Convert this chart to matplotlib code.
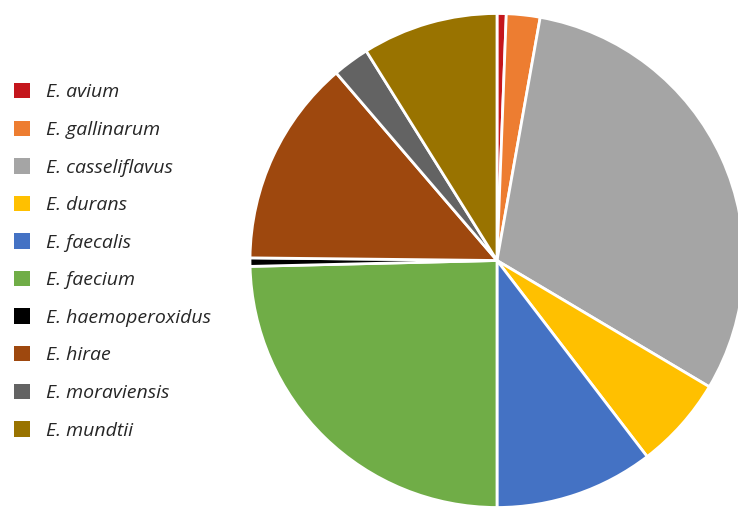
import matplotlib
matplotlib.use("Agg")
import matplotlib.pyplot as plt

species = ["E. avium", "E. gallinarum", "E. casseliflavus", "E. durans", "E. faecalis",
           "E. faecium", "E. haemoperoxidus", "E. hirae", "E. moraviensis", "E. mundtii"]
shares = [0.6, 2.2, 30.74, 6.06, 10.4, 24.62, 0.55, 13.55, 2.4, 8.88]
colors = ["#C4161C", "#ED7D31", "#A5A5A5", "#FFC000", "#4472C4",
          "#70AD47", "#000000", "#9E480E", "#636363", "#997300"]

W, H = 738, 507
fig = plt.figure(figsize=(W / 100, H / 100), dpi=100)
ax = fig.add_axes([0, 0, 1, 1])
wedges, _ = ax.pie(shares, colors=colors, startangle=90, counterclock=False,
                   center=(497, H - 260.5), radius=247,
                   wedgeprops=dict(edgecolor="white", linewidth=2.0))
ax.set_xlim(0, W)
ax.set_ylim(0, H)
ax.set_aspect("auto")
ax.axis("off")

leg = ax.legend(wedges, species, loc="upper left",
                bbox_to_anchor=(14 / W, 1 - 83 / H), frameon=False,
                prop=dict(family="Open Sans", style="italic", size=14),
                handlelength=0.84, handleheight=0.84, handletextpad=0.8,
                labelspacing=0.985, borderpad=0, borderaxespad=0)
for t in leg.get_texts():
    t.set_color("#262626")
for h in leg.legend_handles:
    h.set_edgecolor("none")

fig.savefig("out.png", dpi=100)
